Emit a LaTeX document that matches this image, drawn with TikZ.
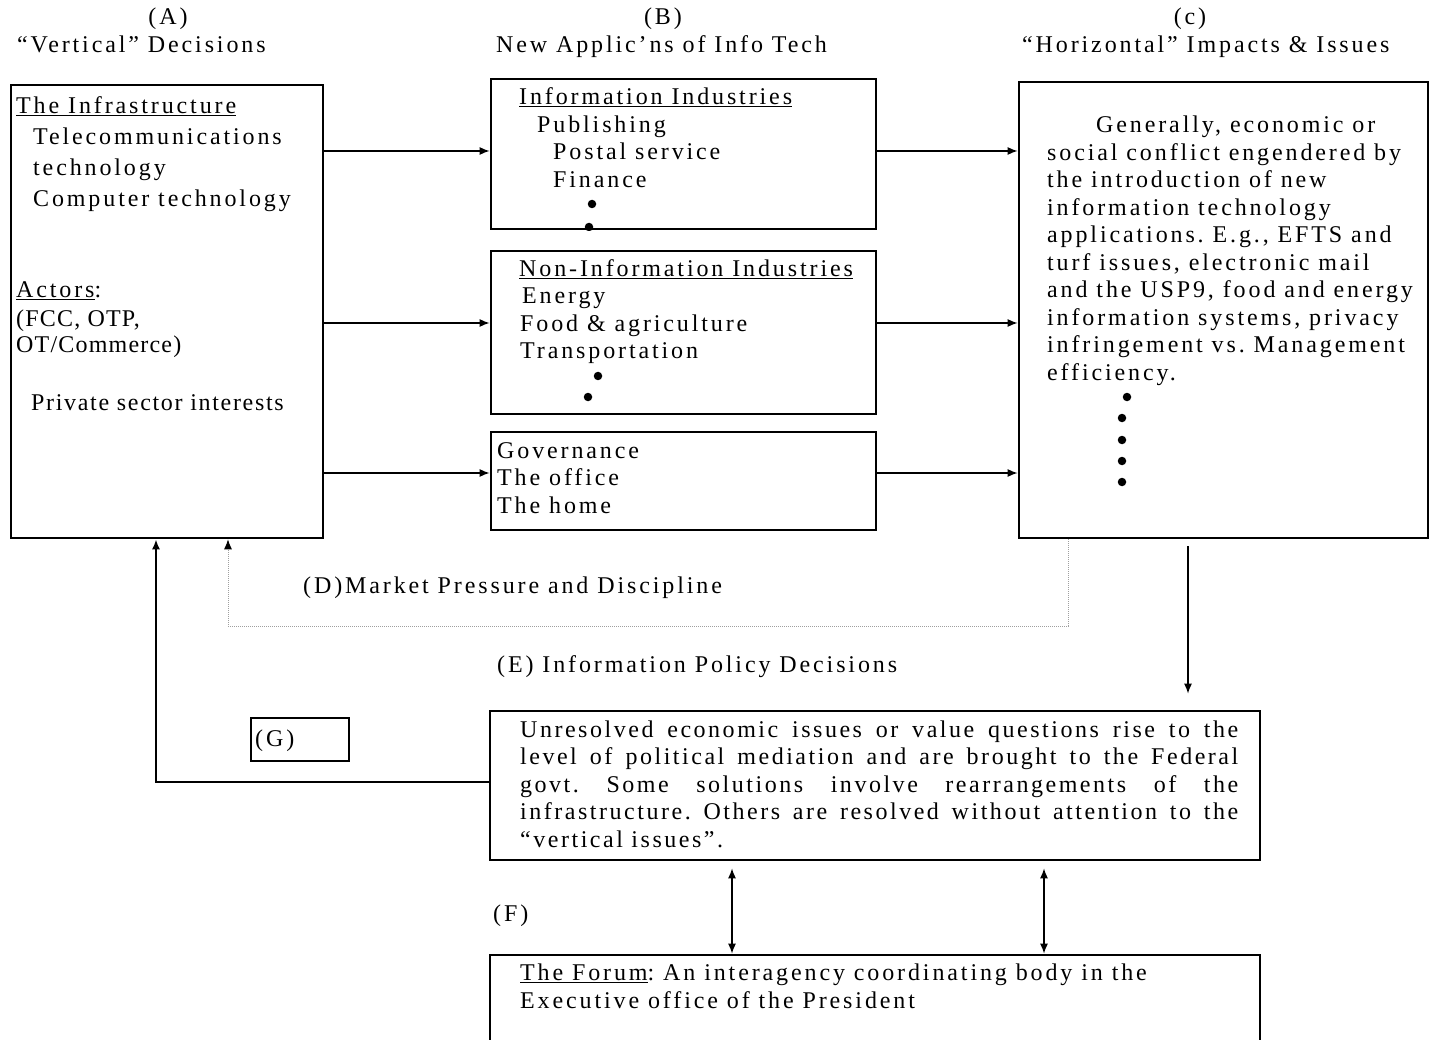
\documentclass[tikz,border=0pt]{standalone}
\usepackage{fontspec}
\setmainfont{Liberation Serif}
\newfontfamily\wide{Liberation Serif}[LetterSpace=12]
\newfontfamily\justwide{Liberation Serif}[LetterSpace=10.5]
\newfontfamily\semiwide{Liberation Serif}[LetterSpace=5]
\usetikzlibrary{arrows.meta}
\frenchspacing

\begin{document}
\begin{tikzpicture}[x=1pt,y=-1pt,
  box/.style={draw, line width=2.6pt, inner sep=0pt},
  txt/.style={anchor=base west, inner sep=0pt, align=left,
              font=\wide\fontsize{24}{27.5}\selectfont},
  txtc/.style={txt, anchor=base},
  plain/.style={txt, font=\semiwide\fontsize{24}{27.5}\selectfont},
  arr/.style={line width=1.5pt, -{Latex[length=10pt,width=8pt]}},
  twoway/.style={line width=1.5pt, {Latex[length=10pt,width=8pt]}-{Latex[length=10pt,width=8pt]}},
  market/.style={draw=gray!75, line width=1pt, dash pattern=on 1pt off 1pt,
                 -{Latex[length=10pt,width=8pt,color=black]}},
  bullet/.style={circle, fill, inner sep=0pt, minimum size=8.5pt}
]
\useasboundingbox (0,0) rectangle (1432,1040);

% ---- column headings
\node[txtc] (hA1) at (168,25) {(A)};
\node[txt]  (hA2) at (17,53) {“Vertical” Decisions};
\node[txtc] (hB1) at (663,25) {(B)};
\node[txt]  (hB2) at (496,53) {New Applic’ns of Info Tech};
\node[txtc] (hC1) at (1190,25) {(c)};
\node[txt]  (hC2) at (1022,53) {“Horizontal” Impacts \& Issues};

% ---- boxes
\node[box, minimum width=312pt, minimum height=453pt] (A)  at (167,311.5) {};
\node[box, minimum width=385pt, minimum height=150pt] (B1) at (683.5,154) {};
\node[box, minimum width=385pt, minimum height=163pt] (B2) at (683.5,332.5) {};
\node[box, minimum width=385pt, minimum height=98pt]  (B3) at (683.5,481) {};
\node[box, minimum width=409pt, minimum height=456pt] (C)  at (1223.5,310) {};
\node[box, line width=2pt, minimum width=98pt, minimum height=43pt] (G) at (300,739.5) {};
\node[box, minimum width=770pt, minimum height=149pt] (E)  at (875,785.5) {};
\node[box, minimum width=770pt, minimum height=110pt] (F)  at (875,1010) {};

% ---- box A: the infrastructure
\node[txt] (a1) at (16,114) {\underline{The Infrastructure}};
\node[txt] (a2) at (33,145) {Telecommunications};
\node[txt] (a3) at (33,176) {technology};
\node[txt] (a4) at (33,207) {Computer technology};
\node[txt] (a5) at (16,298) {\underline{Actors}:};
\node[plain] (a6) at (16,327) {(FCC, OTP,};
\node[plain] (a7) at (16,353) {OT/Commerce)};
\node[txt, font=\wide\fontsize{24}{27.5}\selectfont\addfontfeatures{LetterSpace=7}] (a8) at (31,410) {Private sector interests};

% ---- box B1: information industries
\node[txt] (b1a) at (519,105) {\underline{Information Industries}};
\node[txt] (b1b) at (537,133) {Publishing};
\node[txt] (b1c) at (553,160) {Postal service};
\node[txt] (b1d) at (553,188) {Finance};
\begin{scope}
  \clip (B1.north west) rectangle (B1.south east);
  \node[bullet] (b1e) at (592,204) {};
  \node[bullet] (b1f) at (589,227) {};
\end{scope}

% ---- box B2: non-information industries
\node[txt] (b2a) at (519,277) {\underline{Non-Information Industries}};
\node[txt] (b2b) at (522,304) {Energy};
\node[txt] (b2c) at (520,332) {Food \& agriculture};
\node[txt] (b2d) at (520,359) {Transportation};
\node[bullet] (b2e) at (598,376) {};
\node[bullet] (b2f) at (588,397) {};

% ---- box B3 (multi-line nodes are placed by their last baseline)
\node[txt] (b3a) at (497,513) {Governance\\The office\\The home};

% ---- box C: horizontal issues
\node[txt] (ctext) at (1047,380.5) {\hspace*{49pt}Generally, economic or\\
social conflict engendered by\\
the introduction of new\\
information technology\\
applications. E.g., EFTS and\\
turf issues, electronic mail\\
and the USP9, food and energy\\
information systems, privacy\\
infringement vs. Management\\
efficiency.};
\node[bullet] (c1) at (1127,397) {};
\node[bullet] (c2) at (1122,418) {};
\node[bullet] (c3) at (1122,440) {};
\node[bullet] (c4) at (1122,461) {};
\node[bullet] (c5) at (1122,482) {};

% ---- lower labels
\node[txt] (lD) at (303,593) {(D)Market Pressure and Discipline};
\node[txt] (lE) at (497,672) {(E) Information Policy Decisions};
\node[txt] (lF) at (493,921) {(F)};
\node[txt] (lG) at (255,746) {(G)};

% ---- box E: policy decisions, lines set flush on both sides
\node[txt, font=\justwide\fontsize{24}{27.5}\selectfont] (etext) at (520,847) {%
\makebox[718pt][s]{Unresolved economic issues or value questions rise to the}\\
\makebox[718pt][s]{level of political mediation and are brought to the Federal}\\
\makebox[718pt][s]{govt. Some solutions involve rearrangements of the}\\
\makebox[718pt][s]{infrastructure. Others are resolved without attention to the}\\
“vertical issues”.};

% ---- box F: the forum
\node[txt] (ftext) at (520,1008) {\underline{The Forum}: An interagency coordinating body in the\\
Executive office of the President};

% ---- connectors A -> B -> C
\coordinate (r1) at (0,151);
\coordinate (r2) at (0,323);
\coordinate (r3) at (0,473);
\draw[arr] (A.east |- r1) -- (B1.west |- r1);
\draw[arr] (A.east |- r2) -- (B2.west |- r2);
\draw[arr] (A.east |- r3) -- (B3.west |- r3);
\draw[arr] (B1.east |- r1) -- (C.west |- r1);
\draw[arr] (B2.east |- r2) -- (C.west |- r2);
\draw[arr] (B3.east |- r3) -- (C.west |- r3);

% ---- market pressure feedback (dotted)
\coordinate (dR) at (1068,626);
\coordinate (dL) at (228,626);
\draw[market] (C.south -| dR) -- (dR) -- (dL) -- (A.south -| dL);

% ---- C down to policy decisions
\coordinate (cx) at (1188,0);
\draw[arr, shorten <=7pt, shorten >=16pt] (C.south -| cx) -- (E.north -| cx);

% ---- policy decisions back to infrastructure (G)
\coordinate (gy) at (0,782);
\coordinate (gx) at (156,0);
\draw[arr, line width=2pt] (E.west |- gy) -- (gx |- gy) -- (A.south -| gx);

% ---- E <-> forum
\coordinate (f1) at (732,0);
\coordinate (f2) at (1044,0);
\draw[twoway, shorten <=7pt] (E.south -| f1) -- (F.north -| f1);
\draw[twoway, shorten <=7pt] (E.south -| f2) -- (F.north -| f2);
\end{tikzpicture}
\end{document}
